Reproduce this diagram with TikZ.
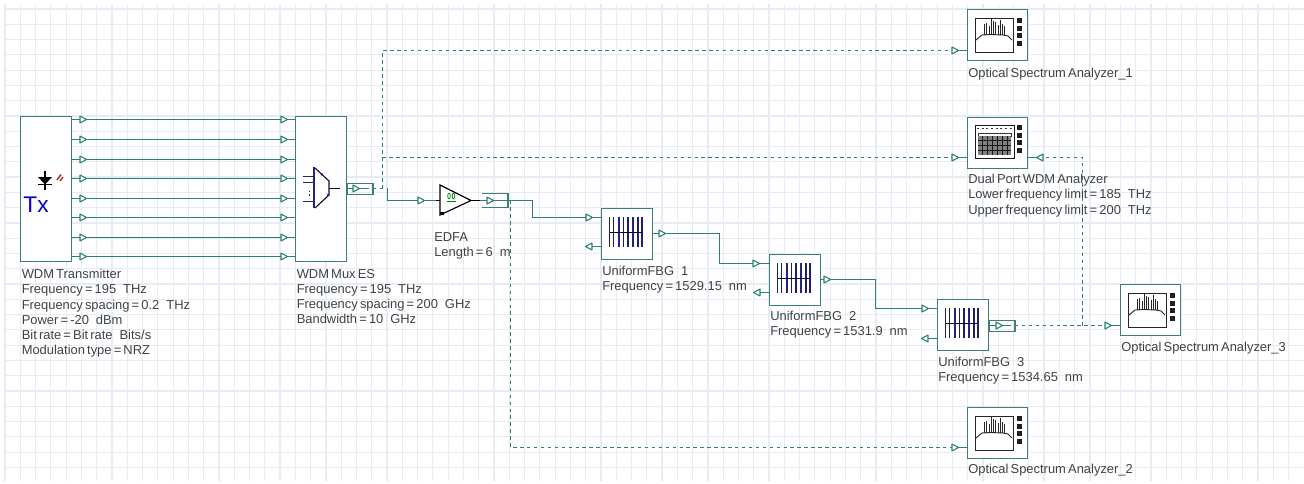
\documentclass[tikz,border=0pt]{standalone}
\usepackage{fontspec}
\setmainfont[WordSpace=0.6]{Liberation Sans}
\newcommand{\dgap}{\hspace{5.2pt}}
\definecolor{wire}{HTML}{2F8074}
\definecolor{edge}{HTML}{3B7F76}
\definecolor{gridc}{HTML}{E7ECF4}
\definecolor{navy}{HTML}{23237F}
\definecolor{txt}{HTML}{3F4343}
\tikzset{
  blockbox/.style={draw=edge,fill=white,line width=1pt,rectangle,inner sep=0pt,anchor=north west},
  wideblock/.style={blockbox,minimum width=38.25pt,minimum height=38.25pt},
  tallblock/.style={blockbox,minimum width=38.25pt,minimum height=108.75pt},
  meter/.style={blockbox,minimum width=45pt,minimum height=38.25pt},
  lab/.style={anchor=north west,inner sep=0pt,align=left,text=txt,font=\fontsize{9.7}{11.4}\selectfont},
  wireline/.style={draw=wire,line width=1.15pt},
  dashline/.style={draw=wire,line width=0.9pt,dash pattern=on 2.6pt off 2.6pt},
  tipshape/.style={draw=wire,fill=white,line width=0.8pt,line join=round},
  pics/tipr/.style={code={\draw[tipshape] (-3,-3.5)--(3.5,0)--(-3,3.5)--cycle;}},
  pics/tipl/.style={code={\draw[tipshape] (3,-3.5)--(-3.5,0)--(3,3.5)--cycle;}},
  pics/fbgicon/.style={code={
    \foreach \q in {9,13,23,27.5,37.5,41.5}{\draw[navy!85!black,line width=0.85pt] (\q,9)--(\q,39);}
    \foreach \q in {18.5,32.5}{\draw[navy,line width=1.7pt] (\q,9)--(\q,39);}
    \draw[black!85!navy,line width=0.8pt] (9,24.5)--(42,24.5);
  }},
  pics/keys/.style={code={
    \foreach \q in {0,7.6,15.2,22.8}{\fill[black!88] (0,\q) rectangle (5,\q+5);}
  }},
  pics/osaicon/.style={code={
    \draw[black!85,line width=0.85pt] (8.5,9.5) rectangle (46.5,43.5);
    \draw[black!85,line width=0.7pt] (9,31)--(15,26)--(24,25.5)--(36,26)--(41,27)--(45,31);
    \foreach \q/\h in {17/15,19/14,22/17,24.3/10,26.5/12,28.5/13,31/16,33/11,35/15,37.5/17}{\draw[black!85,line width=0.7pt] (\q,26)--(\q,\h);}
    \pic at (50,9) {keys};
  }}
}
\begin{document}
\begin{tikzpicture}[x=0.75pt,y=-0.75pt]
\useasboundingbox (0,0) rectangle (1304,483);
\fill[white] (0,0) rectangle (1304,483);
% grid
\foreach \i in {0,...,84}{\draw[gridc,line width=0.9pt] ({5.02+15.28*\i},4)--({5.02+15.28*\i},481);}
\foreach \j in {0,...,30}{\draw[gridc,line width=0.9pt] (6,{9+15.28*\j})--(1304,{9+15.28*\j});}

% blocks
\node[tallblock] (tx) at (20,116) {};
\node[tallblock] (mux) at (295,116) {};
\node[wideblock] (fbgA) at (601,208) {};
\node[wideblock] (fbgB) at (769,254) {};
\node[wideblock] (fbgC) at (937,299) {};
\node[meter] (osaA) at (967,9) {};
\node[meter] (wdm) at (967,117) {};
\node[meter] (osaB) at (967,407) {};
\node[meter] (osaC) at (1120,284) {};

% free ends
\foreach \n/\y in {1/119.5,2/139.5,3/159.5,4/178.5,5/198.5,6/217.5,7/237.5,8/256.5}{
  \coordinate (txo\n) at (72,\y);
  \coordinate (muxi\n) at (295,\y);
  \draw[wireline] (txo\n)--(muxi\n);
}
\coordinate (muxo) at (346.5,188.5);
\coordinate (muxstub) at (366,188.5);
\coordinate (tapA) at (382.5,188.5);
\coordinate (turnA) at (387.5,188.5);
\coordinate (turnB) at (387.5,200.5);
\coordinate (edfai) at (440,200.5);
\coordinate (edfao) at (471,200.5);
\coordinate (edfastub) at (508,200.5);
\coordinate (turnC) at (532.5,200.5);
\coordinate (turnD) at (532.5,217.5);
\coordinate (fbgAi) at (601,217.5);
\coordinate (fbgAo) at (652,233.5);
\coordinate (turnE) at (719.5,233.5);
\coordinate (turnF) at (719.5,263.5);
\coordinate (fbgBi) at (769,263.5);
\coordinate (fbgBo) at (820,279.5);
\coordinate (turnG) at (875.5,279.5);
\coordinate (turnH) at (875.5,308.5);
\coordinate (fbgCi) at (937.5,308.5);
\coordinate (fbgCo) at (989,325.5);
\coordinate (fbgCstub) at (1008,325.5);
\coordinate (osaAi) at (967,50.5);
\coordinate (wdmi) at (967,157.5);
\coordinate (wdmo) at (1027,157.5);
\coordinate (osaBi) at (967,447.5);
\coordinate (osaCi) at (1120,325.5);
\coordinate (upA) at (382.5,50.5);
\coordinate (upB) at (382.5,157.5);
\coordinate (downA) at (510.5,200.5);
\coordinate (downB) at (510.5,447.5);
\coordinate (upC) at (1082.5,325.5);
\coordinate (upD) at (1082.5,157.5);
\coordinate (backA) at (585,246.5);
\coordinate (backAe) at (601,246.5);
\coordinate (backB) at (753,292.5);
\coordinate (backBe) at (769,292.5);
\coordinate (backC) at (921,338.5);
\coordinate (backCe) at (937.5,338.5);

% connectors
\draw[dashline] (muxstub)--(turnA);
\draw[dashline] (tapA)--(upA)--(osaAi);
\draw[dashline] (upB)--(wdmi);
\draw[dashline] (downA)--(downB)--(osaBi);
\draw[dashline] (fbgCstub)--(osaCi);
\draw[dashline] (upC)--(upD)--(wdmo);
\draw[wireline] (muxo)--(muxstub);
\draw[wireline] (turnA)--(turnB)--(edfai);
\draw[wireline] (edfao)--(edfastub)--(turnC)--(turnD)--(fbgAi);
\draw[wireline] (fbgAo)--(turnE)--(turnF)--(fbgBi);
\draw[wireline] (fbgBo)--(turnG)--(turnH)--(fbgCi);
\draw[wireline] (fbgCo)--(fbgCstub);
\draw[wireline] (backA)--(backAe);
\draw[wireline] (backB)--(backBe);
\draw[wireline] (backC)--(backCe);
\draw[wireline] (wdmo)--(1040,157.5);
\draw[wireline] (955,50.5)--(osaAi);
\draw[wireline] (955,157.5)--(wdmi);
\draw[wireline] (955,447.5)--(osaBi);
\draw[wireline] (1108,325.5)--(osaCi);

% output sleeves
\draw[edge,line width=0.85pt] (347,183.5) rectangle (373,194.5);
\draw[edge,line width=0.85pt] (482,193.5)--(508,193.5)--(508,207.5)--(482,207.5);
\draw[edge,line width=0.85pt] (989,320.5) rectangle (1015,331.5);

% port tips
\foreach \y in {119.5,139.5,159.5,178.5,198.5,217.5,237.5,256.5}{
  \pic at (83,\y) {tipr};
  \pic at (284,\y) {tipr};
}
\foreach \x/\y in {356/188.5,421/200.5,490/200.5,589/217.5,662/233.5,756/263.5,827/279.5,925/308.5,999/325.5,955/50.5,955/157.5,955/447.5,1108/325.5}{
  \pic at (\x,\y) {tipr};
}
\foreach \x/\y in {589/246.5,757/292.5,925/338.5,1040/157.5}{
  \pic at (\x,\y) {tipl};
}

% Tx icon
\draw[black,line width=0.85pt] (45,171)--(45,190);
\draw[black,line width=0.9pt] (38,184.5)--(52,184.5);
\fill[black] (38,177)--(52,177)--(45,184.5)--cycle;
\draw[red!60!black!80,line width=1.1pt] (57,180)--(61,174.5);
\draw[red!60!black!80,line width=1.1pt] (60,181)--(63,177);
\node[inner sep=0pt,text=blue!80!black,font=\fontsize{17}{17}\selectfont] (txmark) at (36,205) {Tx};

% mux icon
\draw[navy,line width=1.7pt] (314,167)--(314,208);
\draw[black!60!navy,line width=0.85pt] (315,168)--(329,181)--(329,195)--(315,208);
\draw[black!60!navy,line width=0.85pt] (329,188.5)--(340,188.5);
\foreach \y in {176.5,182.5,201.5}{\draw[navy,line width=1.2pt] (303,\y)--(313,\y);}
\draw[navy,line width=0.6pt,dash pattern=on 1pt off 1.5pt] (309,191)--(309,196);
\fill[navy] (322,174.5) circle (1.3);
\fill[navy] (328,195) circle (1.3);

% EDFA
\draw[black,fill=white,line width=0.85pt,line join=miter] (440,185)--(471,200.5)--(440,215)--cycle;
\draw[black,line width=0.85pt] (436,200.5)--(440,200.5);
\draw[black,line width=0.85pt] (471,200.5)--(480,200.5);
\fill[black] (440,212) rectangle (443.5,215);
\draw[green!50!black,line width=0.6pt] (449,196) ellipse (1.3 and 2.8);
\draw[green!50!black,line width=0.6pt] (453.5,196) ellipse (1.3 and 2.8);
\draw[green!50!black,line width=0.6pt] (446.5,201.5)--(456,201.5);

% FBG icons
\pic at (600.5,208) {fbgicon};
\pic at (768.5,254) {fbgicon};
\pic at (936.5,299) {fbgicon};

% analyzers
\pic at (967,9) {osaicon};
\pic at (967,407) {osaicon};
\pic at (1120,284) {osaicon};
% WDM analyzer icon
\draw[black!90,line width=0.9pt] (975.5,125.5) rectangle (1014.5,158.5);
\draw[black!80,line width=0.9pt,dash pattern=on 1.5pt off 2pt] (977,128.5)--(1012,128.5);
\draw[black!80,line width=0.6pt] (978,133) rectangle (1011,136);
\fill[black!50] (978,136) rectangle (1011,155);
\foreach \q in {982,987,992,997,1002,1007}{\draw[black!90,line width=0.6pt] (\q,136)--(\q,155);}
\foreach \q in {140,145,150}{\draw[black!90,line width=0.6pt] (978,\q)--(1011,\q);}
\pic at (1017,125) {keys};

% labels
\node[lab] (txlab) at (21.5,269) {WDM Transmitter\\Frequency = 195\dgap THz\\Frequency spacing = 0.2\dgap THz\\Power = -20\dgap dBm\\Bit rate = Bit rate\dgap Bits/s\\Modulation type = NRZ};
\node[lab] (muxlab) at (296.5,269) {WDM Mux ES\\Frequency = 195\dgap THz\\Frequency spacing = 200\dgap GHz\\Bandwidth = 10\dgap GHz};
\node[lab] (edfalab) at (434,232) {EDFA\\Length = 6\dgap m};
\node[lab] (fbgAlab) at (602,266) {UniformFBG\dgap 1\\Frequency = 1529.15\dgap nm};
\node[lab] (fbgBlab) at (770,311) {UniformFBG\dgap 2\\Frequency = 1531.9\dgap nm};
\node[lab] (fbgClab) at (938,357) {UniformFBG\dgap 3\\Frequency = 1534.65\dgap nm};
\node[lab] (osaAlab) at (968,68) {Optical Spectrum Analyzer\_1};
\node[lab] (wdmlab) at (968,174) {Dual Port WDM Analyzer\\Lower frequency limit = 185\dgap THz\\Upper frequency limit = 200\dgap THz};
\node[lab] (osaClab) at (1121,342) {Optical Spectrum Analyzer\_3};
\node[lab] (osaBlab) at (968,464) {Optical Spectrum Analyzer\_2};
\end{tikzpicture}
\end{document}
